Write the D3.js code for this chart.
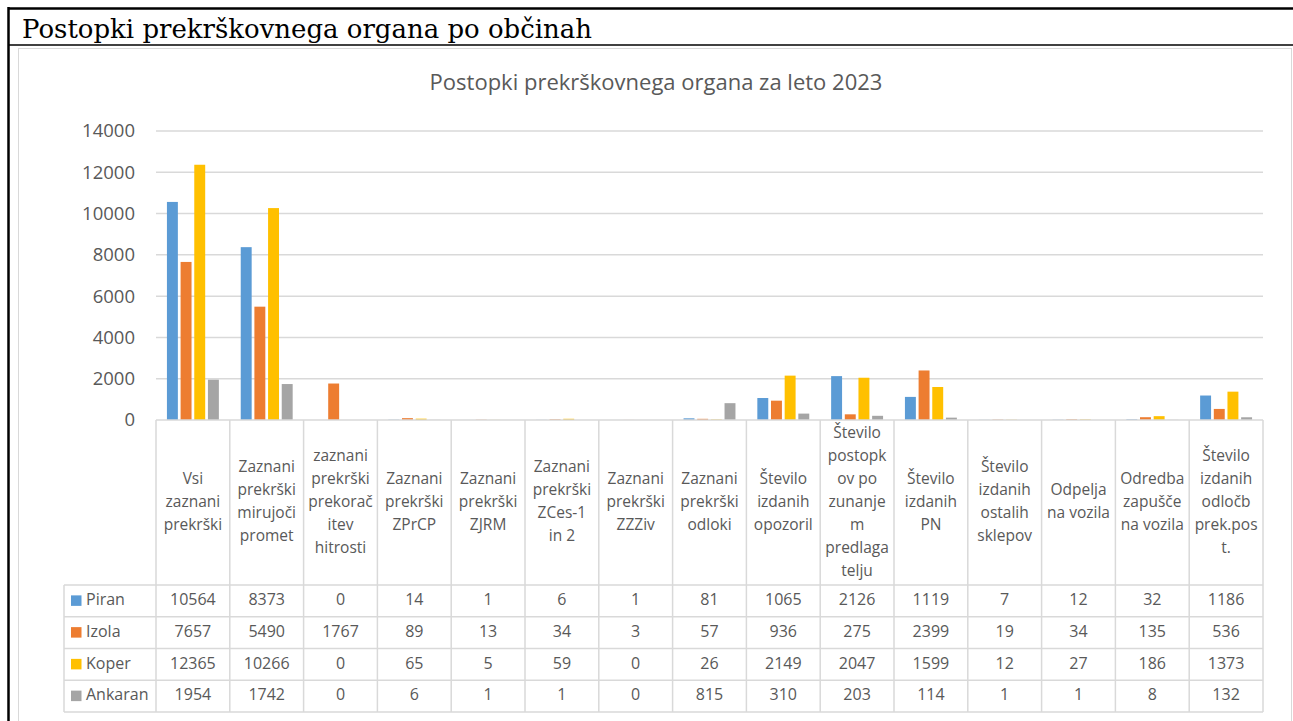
<!DOCTYPE html>
<html>
<head>
<meta charset="utf-8">
<script src="https://cdn.jsdelivr.net/npm/d3@7"></script>
<style>
  body { margin: 0; background: #fff; }
  svg { display: block; }
</style>
</head>
<body>
<div id="root"></div>
<script>
// categories (header lines as they wrap in the data table)
var categories = [
  ["Vsi", "zaznani", "prekrški"],
  ["Zaznani", "prekrški", "mirujoči", "promet"],
  ["zaznani", "prekrški", "prekorač", "itev", "hitrosti"],
  ["Zaznani", "prekrški", "ZPrCP"],
  ["Zaznani", "prekrški", "ZJRM"],
  ["Zaznani", "prekrški", "ZCes-1", "in 2"],
  ["Zaznani", "prekrški", "ZZZiv"],
  ["Zaznani", "prekrški", "odloki"],
  ["Število", "izdanih", "opozoril"],
  ["Število", "postopk", "ov po", "zunanje", "m", "predlaga", "telju"],
  ["Število", "izdanih", "PN"],
  ["Število", "izdanih", "ostalih", "sklepov"],
  ["Odpelja", "na vozila"],
  ["Odredba", "zapušče", "na vozila"],
  ["Število", "izdanih", "odločb", "prek.pos", "t."]
];
var seriesNames = ["Piran", "Izola", "Koper", "Ankaran"];
var piran   = [10564, 8373, 0, 14, 1, 6, 1, 81, 1065, 2126, 1119, 7, 12, 32, 1186];
var izola   = [7657, 5490, 1767, 89, 13, 34, 3, 57, 936, 275, 2399, 19, 34, 135, 536];
var koper   = [12365, 10266, 0, 65, 5, 59, 0, 26, 2149, 2047, 1599, 12, 27, 186, 1373];
var ankaran = [1954, 1742, 0, 6, 1, 1, 0, 815, 310, 203, 114, 1, 1, 8, 132];
var yTicks = [0, 2000, 4000, 6000, 8000, 10000, 12000, 14000];
var colors = ["#5B9BD5", "#ED7D31", "#FFC000", "#A5A5A5"];

var series = [piran, izola, koper, ankaran];

var w = 1293, h = 721;
var margin = { top: 131, left: 156, right: 1263, bottom: 420 };
var gray = "#595959", grid = "#D9D9D9";
var sans = "'Open Sans', sans-serif";

var svg = d3.select("#root").append("svg").attr("width", w).attr("height", h);

// outer document table
svg.append("line").attr("x1", 8).attr("x2", w).attr("y1", 8.5).attr("y2", 8.5)
  .attr("stroke", "#000").attr("stroke-width", 2.5);
svg.append("line").attr("x1", 8.5).attr("x2", 8.5).attr("y1", 7).attr("y2", h)
  .attr("stroke", "#000").attr("stroke-width", 2.5);
svg.append("line").attr("x1", 8).attr("x2", w).attr("y1", 45).attr("y2", 45)
  .attr("stroke", "#000").attr("stroke-width", 1.5);
svg.append("text").attr("x", 22).attr("y", 38)
  .style("font-family", "'DejaVu Serif', serif").style("font-size", "25.5px").attr("fill", "#000")
  .attr("textLength", 570).attr("lengthAdjust", "spacingAndGlyphs")
  .text("Postopki prekrškovnega organa po občinah");

// chart area border
svg.append("rect").attr("x", 18.5).attr("y", 48.5).attr("width", 1273).attr("height", 700)
  .attr("fill", "none").attr("stroke", grid).attr("stroke-width", 1);

// title
svg.append("text").attr("x", 656).attr("y", 84).attr("text-anchor", "middle")
  .attr("dominant-baseline", "middle").attr("fill", gray)
  .style("font-family", sans).style("font-size", "22px")
  .text("Postopki prekrškovnega organa za leto 2023");

// scales
var x0 = d3.scaleBand().domain(d3.range(categories.length)).range([margin.left, margin.right]);
var x1 = d3.scaleBand().domain(d3.range(seriesNames.length)).range([0, x0.bandwidth()])
  .paddingInner(0.2).paddingOuter(0.8);
var y = d3.scaleLinear().domain([0, 14000]).range([margin.bottom, margin.top]);

// gridlines
svg.append("g").selectAll("line").data(yTicks.slice(1)).enter().append("line")
  .attr("x1", margin.left).attr("x2", margin.right)
  .attr("y1", function(d) { return y(d); }).attr("y2", function(d) { return y(d); })
  .attr("stroke", grid).attr("stroke-width", 1.5);

// y axis labels
var yAxis = d3.axisLeft(y).tickValues(yTicks).tickFormat(d3.format("d")).tickSize(0).tickPadding(21);
var gy = svg.append("g").attr("transform", "translate(" + margin.left + ",0)").call(yAxis);
gy.select(".domain").remove();
gy.selectAll("text").attr("fill", gray).style("font-family", sans).style("font-size", "18.5px");

// bars
svg.append("g").selectAll("g").data(series).enter().append("g")
  .attr("fill", function(d, i) { return colors[i]; })
  .each(function(vals, si) {
    d3.select(this).selectAll("rect").data(vals).enter().append("rect")
      .attr("x", function(d, ci) { return x0(ci) + x1(si); })
      .attr("width", x1.bandwidth())
      .attr("y", function(d) { return y(d); })
      .attr("height", function(d) { return y(0) - y(d); });
  });

// data table
var headerBottom = 585, rowH = 31.75, tableBottom = headerBottom + rowH * seriesNames.length;
var legendLeft = 64;
var tg = svg.append("g").attr("stroke", grid).attr("stroke-width", 1.5);
tg.append("line").attr("x1", margin.left).attr("x2", margin.right)
  .attr("y1", margin.bottom).attr("y2", margin.bottom);
d3.range(categories.length + 1).forEach(function(i) {
  var xx = i < categories.length ? x0(i) : margin.right;
  tg.append("line").attr("x1", xx).attr("x2", xx).attr("y1", margin.bottom).attr("y2", tableBottom);
});
tg.append("line").attr("x1", legendLeft).attr("x2", legendLeft).attr("y1", headerBottom).attr("y2", tableBottom);
d3.range(seriesNames.length + 1).forEach(function(r) {
  var yy = headerBottom + r * rowH;
  tg.append("line").attr("x1", legendLeft).attr("x2", margin.right).attr("y1", yy).attr("y2", yy);
});

// header labels
var lineH = 23, headCenter = (margin.bottom + headerBottom) / 2;
categories.forEach(function(lines, ci) {
  svg.append("g").selectAll("text").data(lines).enter().append("text")
    .attr("x", x0(ci) + x0.bandwidth() / 2)
    .attr("y", function(d, i) { return headCenter + (i - (lines.length - 1) / 2) * lineH; })
    .attr("text-anchor", "middle").attr("dominant-baseline", "middle")
    .attr("fill", gray).style("font-family", sans).style("font-size", "15.5px")
    .text(function(d) { return d; });
});

// rows
seriesNames.forEach(function(name, si) {
  var cy = headerBottom + rowH * (si + 0.5);
  svg.append("rect").attr("x", 71).attr("y", cy - 5.5).attr("width", 10.5).attr("height", 10.5)
    .attr("fill", colors[si]);
  svg.append("text").attr("x", 86).attr("y", cy).attr("dominant-baseline", "middle")
    .attr("fill", gray).style("font-family", sans).style("font-size", "16px").text(name);
  svg.append("g").selectAll("text").data(series[si]).enter().append("text")
    .attr("x", function(d, ci) { return x0(ci) + x0.bandwidth() / 2; })
    .attr("y", cy).attr("text-anchor", "middle").attr("dominant-baseline", "middle")
    .attr("fill", gray).style("font-family", sans).style("font-size", "16px")
    .text(function(d) { return d; });
});
</script>
</body>
</html>
